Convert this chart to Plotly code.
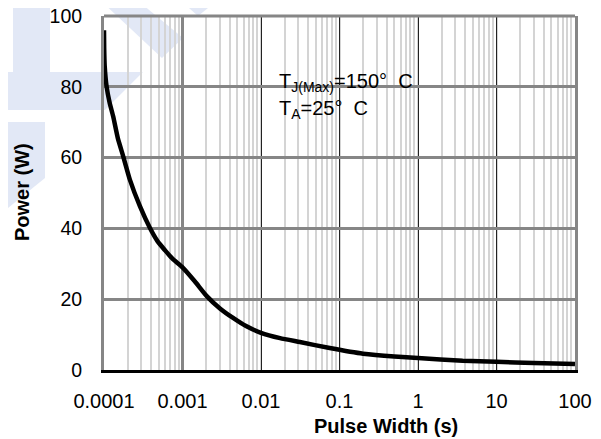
import plotly.graph_objects as go

# Data
pulse_width = [1e-4, 1.005e-4, 1.02e-4, 1.08e-4, 1.18e-4, 1.31e-4, 1.5e-4, 1.76e-4, 2.14e-4, 2.875e-4,
               3.85e-4, 4.8e-4, 6e-4, 7.56e-4, 1e-3, 1.44e-3, 2.05e-3, 3e-3, 4.41e-3, 6.45e-3,
               1e-2, 1.75e-2, 3.13e-2, 7.5e-2, 0.2, 0.5, 1, 3.7, 10, 30, 100]
power = [96, 91, 86, 80, 75.5, 71.6, 65.5, 60.3, 53.7, 46.2,
         40.1, 36.4, 33.8, 31.3, 29.0, 25.0, 20.8, 17.4, 14.7, 12.4,
         10.5, 9.0, 7.9, 6.2, 4.6, 3.8, 3.4, 2.6, 2.3, 2.0, 1.7]

x_tickvals = [1e-4, 1e-3, 1e-2, 1e-1, 1, 10, 100]
x_ticktext = ["0.0001", "0.001", "0.01", "0.1", "1", "10", "100"]
y_tickvals = [0, 20, 40, 60, 80, 100]
y_ticktext = ["0", "20", "40", "60", "80", "100"]
x_title = "Pulse Width (s)"
y_title = "Power (W)"
note_tj = "T<sub>J(Max)</sub>=150°\u00a0\u00a0C"
note_ta = "T<sub>A</sub>=25°\u00a0\u00a0C"

FONT = "Liberation Sans, Arial, sans-serif"
WM = "rgb(226,232,246)"
GRAY = "#868686"

# page is offset by the 8px body margin
OFF = 8
W, H = 601 - OFF, 439 - OFF
PL, PR, PT, PB = 104, 575, 16, 370          # plot box in page pixels
L, T = PL - OFF, PT - OFF
R = W - (PR - OFF)
B = H - (PB - OFF)

def px2paper(px, py):
    return ((px - PL) / (PR - PL), (PB - py) / (PB - PT))

def poly(points):
    pts = [px2paper(x, y) for x, y in points]
    return "M " + " L ".join(f"{a:.4f},{b:.4f}" for a, b in pts) + " Z"

fig = go.Figure()
fig.add_trace(go.Scatter(x=pulse_width, y=power, mode="lines",
                         line=dict(color="black", width=4.5, shape="spline", smoothing=0.5),
                         showlegend=False, hoverinfo="skip"))
# invisible trace for overlay axis (gray thick major grid at 0.001)
fig.add_trace(go.Scatter(x=[1e-4, 100], y=[0, 100], xaxis="x2", mode="markers",
                         marker=dict(opacity=0), showlegend=False, hoverinfo="skip"))

wm_shapes = [
    [(13, 0), (50, 0), (50, 72), (143, 72), (105, 110), (0, 110), (0, 72), (13, 72)],
    [(8, 122), (45, 122), (45, 178), (8, 208)],
    [(100, 0), (137, 0), (183, 38), (162, 58)],
    [(180, 0), (218, 0), (198, 16)],
]
shapes = []
for s in wm_shapes:
    shapes.append(dict(type="path", path=poly(s), xref="paper", yref="paper",
                       fillcolor=WM, line=dict(width=0), layer="below"))
# top border of the plot frame
shapes.append(dict(type="line", xref="paper", yref="paper", x0=0, x1=1, y0=1, y1=1,
                   line=dict(color=GRAY, width=3), layer="above"))

fig.update_layout(
    width=W, height=H,
    margin=dict(l=L, r=R, t=T, b=B, autoexpand=False),
    paper_bgcolor="white", plot_bgcolor="white",
    font=dict(family=FONT, size=20, color="black"),
    shapes=shapes,
    xaxis=dict(type="log", range=[-4, 2], tickvals=x_tickvals, ticktext=x_ticktext,
               showgrid=True, gridcolor="#222222", gridwidth=1,
               minor=dict(dtick="D1", showgrid=True, gridcolor="#d4d4d4", gridwidth=1.6),
               showline=True, linecolor="black", linewidth=3,
               ticks="", ticklabelstandoff=11, zeroline=False, automargin=False,
               ticklabeloverflow="allow", tickfont=dict(size=20)),
    xaxis2=dict(type="log", range=[-4, 2], overlaying="x", tickvals=[1e-3],
                showgrid=True, gridcolor=GRAY, gridwidth=3, automargin=False,
                showticklabels=False, ticks="", showline=False, zeroline=False),
    yaxis=dict(range=[0, 100], tickvals=y_tickvals, ticktext=y_ticktext,
               showgrid=True, gridcolor=GRAY, gridwidth=3,
               showline=True, linecolor=GRAY, linewidth=3, mirror=True,
               zeroline=False, ticks="", ticklabelstandoff=15, automargin=False,
               ticklabeloverflow="allow", tickfont=dict(size=19.5)),
    annotations=[
        dict(text=f"<b>{x_title}</b>", xref="paper", yref="paper",
             x=px2paper(385.5, 0)[0], y=px2paper(0, 426)[1], xanchor="center", yanchor="middle",
             showarrow=False, font=dict(size=20)),
        dict(text=f"<b>{y_title}</b>", xref="paper", yref="paper", textangle=-90,
             x=px2paper(21.5, 0)[0], y=px2paper(0, 192.5)[1], xanchor="center", yanchor="middle",
             showarrow=False, font=dict(size=20)),
        dict(text=note_tj, xref="paper", yref="paper",
             x=px2paper(277, 0)[0], y=px2paper(0, 83)[1], xanchor="left", yanchor="middle",
             showarrow=False, font=dict(size=20)),
        dict(text=note_ta, xref="paper", yref="paper",
             x=px2paper(277, 0)[0], y=px2paper(0, 109.5)[1], xanchor="left", yanchor="middle",
             showarrow=False, font=dict(size=20)),
    ],
)

fig.write_html("out.html")
